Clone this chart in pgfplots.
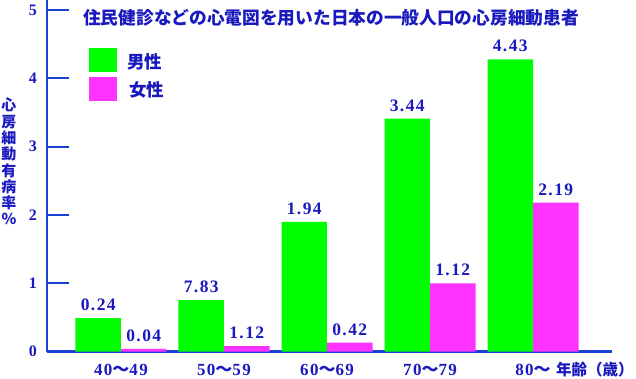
\documentclass[border=0pt]{standalone}
\usepackage{fontspec}
\setmainfont{Liberation Serif}
\newfontfamily\jp{Noto Sans CJK JP}
\newfontfamily\numf{Liberation Serif}[LetterSpace=8]
\usepackage{pgfplots}
\usepackage{pgfplotstable}
\pgfplotsset{compat=1.18}
\definecolor{txtblue}{RGB}{25,25,190}
\definecolor{axblue}{RGB}{25,65,210}
\definecolor{mgreen}{RGB}{0,255,0}
\definecolor{fmag}{RGB}{255,51,255}

\pgfplotstableread{
x y lab
1 0.49 0.24
2 0.755 7.83
3 1.90 1.94
4 3.41 3.44
5 4.28 4.43
}\male
\pgfplotstableread{
x y lab
1 0.04 0.04
2 0.08 1.12
3 0.13 0.42
4 1.00 1.12
5 2.18 2.19
}\female

\begin{document}
\begin{tikzpicture}
\path[use as bounding box] (-47bp,-27.4bp) rectangle (589bp,351.6bp);
\begin{axis}[
  at={(0,0)}, anchor=south west,
  scale only axis, width=565bp, height=351.6bp,
  xmin=0.2816, xmax=5.767, ymin=0, ymax=5.148,
  axis lines=left,
  axis line style={axblue, line width=2.2bp, -},
  xtick={1,...,5},
  xticklabels={{40{\jp ～}49},{50{\jp ～}59},{60{\jp ～}69},{70{\jp ～}79},{80{\jp ～}}},
  x tick style={draw=none},
  ytick={0,...,5},
  tick align=inside,
  major tick length=22bp,
  y tick style={axblue, line width=2bp},
  /pgf/number format/assume math mode=true,
  tick label style={font=\numf\bfseries\fontsize{16bp}{18bp}\selectfont, text=txtblue, inner sep=0pt},
  yticklabel style={anchor=east, xshift=-10bp},
  xticklabel style={anchor=base, yshift=-24bp, font=\numf\bfseries\fontsize{17bp}{19bp}\selectfont},
  clip=false,
  every node near coord/.style={font=\numf\bfseries\fontsize{17.5bp}{19bp}\selectfont, text=txtblue, anchor=south, inner sep=0pt, yshift=7bp},
]
\addplot[ybar, bar width=0.4417, bar shift=0pt, fill=mgreen, draw=none,
  nodes near coords, point meta=explicit symbolic]
  table[x expr=\thisrow{x}-0.2209, y=y, meta=lab]{\male};
\addplot[ybar, bar width=0.4417, bar shift=0pt, fill=fmag, draw=none,
  nodes near coords, point meta=explicit symbolic]
  table[x expr=\thisrow{x}+0.2209, y=y, meta=lab]{\female};
\end{axis}
% title
\node[text=txtblue, font=\jp\bfseries\fontsize{17.7bp}{20bp}\selectfont] at (284bp,333.6bp)
  {住民健診などの心電図を用いた日本の一般人口の心房細動患者};
% legend
\fill[mgreen] (42bp,279.6bp) rectangle (70bp,303.6bp);
\fill[fmag] (42bp,250.6bp) rectangle (70bp,274.6bp);
\node[anchor=west, inner sep=0pt, text=txtblue, font=\jp\bfseries\fontsize{17.5bp}{20bp}\selectfont] at (80bp,289.6bp) {男性};
\node[anchor=west, inner sep=0pt, text=txtblue, font=\jp\bfseries\fontsize{17.5bp}{20bp}\selectfont] at (82bp,261.6bp) {女性};
% y label
\node[align=center, inner sep=0pt, text=txtblue, font=\jp\bfseries\fontsize{15bp}{16.3bp}\selectfont] at (-38bp,190bp)
  {心\\房\\細\\動\\有\\病\\率\\\%};
% x unit label
\node[anchor=base west, inner sep=0pt, text=txtblue, font=\jp\bfseries\fontsize{15.5bp}{18bp}\selectfont] at (509bp,-24bp) {年齢（歳）};
\end{tikzpicture}
\end{document}
